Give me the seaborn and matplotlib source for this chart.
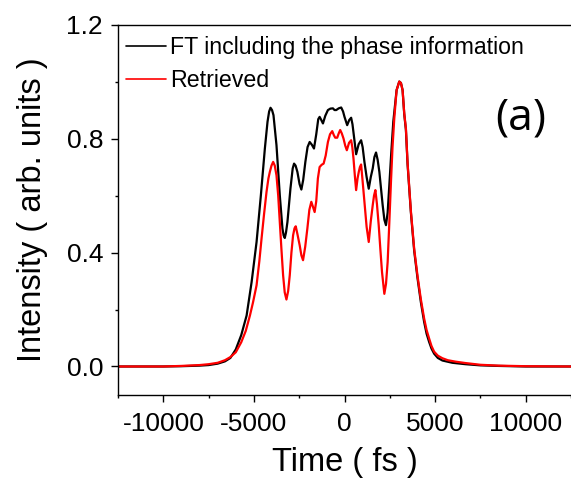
import numpy as np
import pandas as pd
import matplotlib
matplotlib.use("Agg")
import matplotlib.pyplot as plt
import seaborn as sns
from matplotlib.ticker import MultipleLocator

# Data (time in fs, normalised intensity)
ft_time = [-12500, -10000, -9000, -8000, -7500, -7000, -6600, -6300, -6000, -5700,
           -5403, -5128, -4854, -4616, -4396, -4249, -4160, -4084, -4000, -3920,
           -3755, -3572, -3425, -3360, -3297, -3230, -3150, -2985, -2860, -2784,
           -2700, -2601, -2480, -2381, -2280, -2161, -2040, -1923, -1800, -1685,
           -1560, -1450, -1374, -1290, -1190, -1060, -916, -780, -641, -550,
           -458, -320, -183, -80, 0, 147, 260, 366, 440, 513,
           641, 780, 916, 1000, 1099, 1220, 1337, 1450, 1557, 1650,
           1740, 1830, 1923, 2106, 2200, 2289, 2380, 2473, 2580, 2692,
           2875, 3022, 3114, 3205, 3297, 3389, 3480, 3664, 3847, 4029,
           4213, 4396, 4530, 4671, 4800, 4946, 5150, 5403, 5952, 6686,
           7500, 8500, 10000, 12500]
ft_int = [0.0, 0.0, 0.001, 0.003, 0.005, 0.010, 0.018, 0.030, 0.060, 0.110,
          0.179, 0.296, 0.437, 0.601, 0.765, 0.859, 0.895, 0.908, 0.900, 0.882,
          0.777, 0.601, 0.484, 0.460, 0.451, 0.470, 0.507, 0.624, 0.695, 0.712,
          0.705, 0.683, 0.640, 0.621, 0.655, 0.718, 0.770, 0.788, 0.778, 0.765,
          0.815, 0.868, 0.876, 0.866, 0.853, 0.880, 0.900, 0.905, 0.906, 0.900,
          0.900, 0.906, 0.909, 0.895, 0.876, 0.847, 0.865, 0.873, 0.850, 0.812,
          0.745, 0.780, 0.794, 0.770, 0.718, 0.665, 0.624, 0.665, 0.695, 0.735,
          0.751, 0.725, 0.683, 0.566, 0.515, 0.496, 0.540, 0.636, 0.750, 0.859,
          0.970, 1.000, 0.995, 0.970, 0.885, 0.830, 0.710, 0.540, 0.405, 0.310,
          0.226, 0.156, 0.115, 0.086, 0.063, 0.045, 0.030, 0.021, 0.013, 0.008,
          0.004, 0.002, 0.0, 0.0]

ret_time = [-12500, -10000, -9000, -8000, -7500, -7000, -6600, -6300, -6000, -5700,
            -5450, -5220, -5050, -4854, -4700, -4579, -4440, -4304, -4200, -4121,
            -4030, -3938, -3850, -3755, -3660, -3572, -3480, -3389, -3300, -3205,
            -3110, -3022, -2930, -2839, -2760, -2692, -2600, -2473, -2380, -2289,
            -2170, -2051, -1940, -1832, -1740, -1649, -1560, -1470, -1374, -1260,
            -1154, -1040, -916, -800, -678, -590, -513, -403, -320, -238,
            -150, -55, 40, 128, 250, 366, 430, 495, 570, 641,
            720, 788, 850, 916, 1000, 1099, 1220, 1337, 1450, 1557,
            1630, 1704, 1790, 1887, 1980, 2070, 2198, 2290, 2381, 2470,
            2564, 2650, 2747, 2875, 3022, 3114, 3205, 3297, 3389, 3480,
            3664, 3847, 4029, 4213, 4396, 4530, 4671, 4800, 4946, 5150,
            5403, 5700, 6130, 6686, 7500, 8500, 10000, 12500]
ret_int = [0.0, 0.0, 0.002, 0.005, 0.008, 0.013, 0.022, 0.033, 0.050, 0.085,
           0.125, 0.179, 0.225, 0.285, 0.370, 0.449, 0.535, 0.613, 0.660, 0.683,
           0.705, 0.718, 0.705, 0.671, 0.600, 0.507, 0.410, 0.320, 0.260, 0.235,
           0.265, 0.320, 0.400, 0.460, 0.485, 0.492, 0.465, 0.425, 0.390, 0.373,
           0.420, 0.484, 0.550, 0.578, 0.560, 0.542, 0.580, 0.660, 0.700, 0.708,
           0.712, 0.740, 0.788, 0.815, 0.826, 0.812, 0.803, 0.803, 0.818, 0.830,
           0.818, 0.800, 0.775, 0.759, 0.785, 0.794, 0.770, 0.730, 0.670, 0.619,
           0.660, 0.683, 0.700, 0.709, 0.650, 0.578, 0.490, 0.437, 0.510, 0.566,
           0.600, 0.619, 0.570, 0.496, 0.410, 0.331, 0.255, 0.290, 0.367, 0.500,
           0.648, 0.770, 0.871, 0.970, 1.000, 0.995, 0.970, 0.888, 0.835, 0.715,
           0.545, 0.412, 0.318, 0.236, 0.168, 0.128, 0.098, 0.072, 0.052, 0.038,
           0.029, 0.022, 0.017, 0.012, 0.006, 0.003, 0.001, 0.0]

labels = ["FT including the phase information", "Retrieved"]
x_ticks = [-10000, -5000, 0, 5000, 10000]
y_ticks = [0.0, 0.4, 0.8, 1.2]
y_tick_labels = ["0.0", "0.4", "0.8", "1.2"]

df = pd.concat([
    pd.DataFrame({"Time": ft_time, "Intensity": ft_int, "Series": labels[0]}),
    pd.DataFrame({"Time": ret_time, "Intensity": ret_int, "Series": labels[1]}),
])

sns.set_theme(style="ticks")
plt.rcParams["font.family"] = ["Liberation Sans", "DejaVu Sans"]
plt.rcParams["axes.unicode_minus"] = False
for k in ["text.color", "axes.labelcolor", "xtick.color", "ytick.color", "axes.edgecolor"]:
    plt.rcParams[k] = "black"

fig = plt.figure(figsize=(5.71, 4.79), dpi=100)
ax = fig.add_axes([0.2067, 0.1754, 0.7933, 0.7733])

sns.lineplot(data=df, x="Time", y="Intensity", hue="Series", sort=False,
             palette={labels[0]: "black", labels[1]: "#ff0000"},
             linewidth=1.6, ax=ax, legend=True, estimator=None)

ax.set_xlim(-12500, 12500)
ax.set_ylim(-0.1, 1.2)
ax.set_xticks(x_ticks)
ax.set_yticks(y_ticks)
ax.set_yticklabels(y_tick_labels)
ax.xaxis.set_minor_locator(MultipleLocator(2500))
ax.yaxis.set_minor_locator(MultipleLocator(0.2))
ax.tick_params(axis="both", which="major", direction="out", length=4.8, width=1,
               labelsize=19)
ax.tick_params(axis="x", which="major", pad=7.5)
ax.tick_params(axis="y", which="major", pad=6)
ax.tick_params(axis="both", which="minor", direction="out", length=2.5, width=1)
ax.tick_params(axis="x", which="both", top=False)
ax.tick_params(axis="y", which="both", right=False)

for s in ["left", "bottom", "top"]:
    ax.spines[s].set_color("black")
    ax.spines[s].set_linewidth(1.0)
ax.spines["right"].set_visible(False)

ax.set_xlabel("Time ( fs )", fontsize=23.5, labelpad=8)
ax.set_ylabel("Intensity ( arb. units )", fontsize=23.5, labelpad=13)

leg = ax.legend(loc="upper left", bbox_to_anchor=(0.0066, 0.982), frameon=False,
                fontsize=16.7, handlelength=1.75, handletextpad=0.15,
                borderaxespad=0.0, labelspacing=0.45, borderpad=0.2)
for line in leg.get_lines():
    line.set_linewidth(1.2)

ax.text(0.945, 0.748, "(a)", transform=ax.transAxes, fontsize=32,
        family=["Open Sans", "DejaVu Sans"], ha="right", va="center")

fig.savefig("out.png", dpi=100)
